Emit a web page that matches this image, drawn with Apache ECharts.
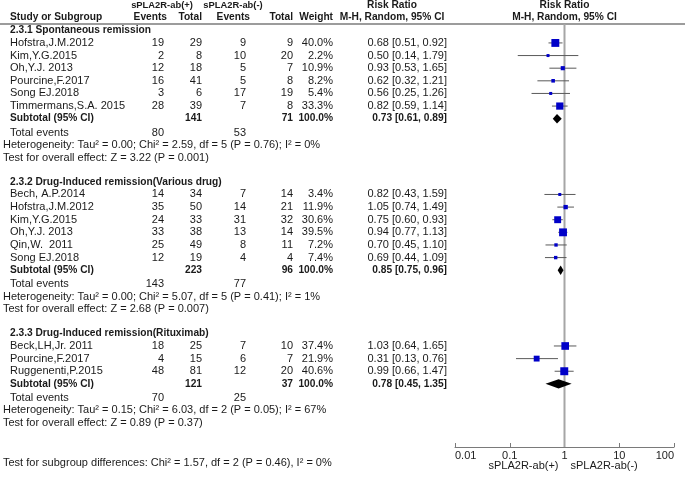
<!DOCTYPE html>
<html><head><meta charset="utf-8">
<script src="https://cdn.jsdelivr.net/npm/echarts@6/dist/echarts.min.js"></script>
<style>html,body{margin:0;padding:0;background:#fff}#c{width:685px;height:481px}</style>
</head><body><div id="c"></div>
<script>
// ---------------- DATA ----------------
const groupTitles = ['2.3.1 Spontaneous remission', '2.3.2 Drug-Induced remission(Various drug)', '2.3.3 Drug-Induced remission(Rituximab)'];

const studies1 = ['Hofstra,J.M.2012', 'Kim,Y.G.2015', 'Oh,Y.J. 2013', 'Pourcine,F.2017', 'Song EJ.2018', 'Timmermans,S.A. 2015'];
const eventsPos1 = [19, 2, 12, 16, 3, 28];
const totalPos1 = [29, 8, 18, 41, 6, 39];
const eventsNeg1 = [9, 10, 5, 5, 17, 7];
const totalNeg1 = [9, 20, 7, 8, 19, 8];
const weight1 = [40.0, 2.2, 10.9, 8.2, 5.4, 33.3];
const rr1 = [0.68, 0.50, 0.93, 0.62, 0.56, 0.82];
const lo1 = [0.51, 0.14, 0.53, 0.32, 0.25, 0.59];
const hi1 = [0.92, 1.79, 1.65, 1.21, 1.26, 1.14];

const studies2 = ['Bech, A.P.2014', 'Hofstra,J.M.2012', 'Kim,Y.G.2015', 'Oh,Y.J. 2013', 'Qin,W.  2011', 'Song EJ.2018'];
const eventsPos2 = [14, 35, 24, 33, 25, 12];
const totalPos2 = [34, 50, 33, 38, 49, 19];
const eventsNeg2 = [7, 14, 31, 13, 8, 4];
const totalNeg2 = [14, 21, 32, 14, 11, 4];
const weight2 = [3.4, 11.9, 30.6, 39.5, 7.2, 7.4];
const rr2 = [0.82, 1.05, 0.75, 0.94, 0.70, 0.69];
const lo2 = [0.43, 0.74, 0.60, 0.77, 0.45, 0.44];
const hi2 = [1.59, 1.49, 0.93, 1.13, 1.10, 1.09];

const studies3 = ['Beck,LH,Jr. 2011', 'Pourcine,F.2017', 'Ruggenenti,P.2015'];
const eventsPos3 = [18, 4, 48];
const totalPos3 = [25, 15, 81];
const eventsNeg3 = [7, 6, 12];
const totalNeg3 = [10, 7, 20];
const weight3 = [37.4, 21.9, 40.6];
const rr3 = [1.03, 0.31, 0.99];
const lo3 = [0.64, 0.13, 0.66];
const hi3 = [1.65, 0.76, 1.47];

const subTotalPos = [141, 223, 121];
const subTotalNeg = [71, 96, 37];
const subRR = [0.73, 0.85, 0.78];
const subLo = [0.61, 0.75, 0.45];
const subHi = [0.89, 0.96, 1.35];
const totalEventsPos = [80, 143, 70];
const totalEventsNeg = [53, 77, 25];
const heterogeneity = [
  'Heterogeneity: Tau\u00b2 = 0.00; Chi\u00b2 = 2.59, df = 5 (P = 0.76); I\u00b2 = 0%',
  'Heterogeneity: Tau\u00b2 = 0.00; Chi\u00b2 = 5.07, df = 5 (P = 0.41); I\u00b2 = 1%',
  'Heterogeneity: Tau\u00b2 = 0.15; Chi\u00b2 = 6.03, df = 2 (P = 0.05); I\u00b2 = 67%'
];
const overallEffect = [
  'Test for overall effect: Z = 3.22 (P = 0.001)',
  'Test for overall effect: Z = 2.68 (P = 0.007)',
  'Test for overall effect: Z = 0.89 (P = 0.37)'
];
const subgroupTest = 'Test for subgroup differences: Chi\u00b2 = 1.57, df = 2 (P = 0.46), I\u00b2 = 0%';
const xTicks = [0.01, 0.1, 1, 10, 100];
const favoursLeft = 'sPLA2R-ab(+)';
const favoursRight = 'sPLA2R-ab(-)';

// ---------------- LAYOUT ----------------
const FONT = '"Liberation Sans", Arial, sans-serif';
const FS = 11;
const FSB = 10.2;
const X = {name: 10, note: 3, evP: 164, totP: 202, evN: 246, totN: 293, wt: 333, rr: 447, rrHead: 392};
const groups = [
  {names: studies1, evP: eventsPos1, totP: totalPos1, evN: eventsNeg1, totN: totalNeg1, w: weight1, rr: rr1, lo: lo1, hi: hi1},
  {names: studies2, evP: eventsPos2, totP: totalPos2, evN: eventsNeg2, totN: totalNeg2, w: weight2, rr: rr2, lo: lo2, hi: hi2},
  {names: studies3, evP: eventsPos3, totP: totalPos3, evN: eventsNeg3, totN: totalNeg3, w: weight3, rr: rr3, lo: lo3, hi: hi3}
];

const textRows = [];
const marks = [];
const diamonds = [];
const T = (text, x, align, bold, size) => ({text: String(text), x, align: align || 'left', bold: !!bold, size});
const A = (text, axisX, dx, align, bold) => ({text: String(text), axisX, dx, align, bold: !!bold});
const addText = (row, cells) => textRows.push({row, cells});
const f2 = v => v.toFixed(2);
const ciText = (e, l, h) => f2(e) + ' [' + f2(l) + ', ' + f2(h) + ']';

addText(-3, [T('sPLA2R-ab(+)', 162, 'center', true, 9.4), T('sPLA2R-ab(-)', 233, 'center', true, 9.4),
  T('Risk Ratio', X.rrHead, 'center', true), A('Risk Ratio', 1, 0, 'center', true)]);
addText(-2, [T('Study or Subgroup', X.name, 'left', true), T('Events', 167, 'right', true), T('Total', X.totP, 'right', true),
  T('Events', 250, 'right', true), T('Total', X.totN, 'right', true), T('Weight', X.wt, 'right', true),
  T('M-H, Random, 95% CI', X.rrHead, 'center', true), A('M-H, Random, 95% CI', 1, 0, 'center', true)]);

let r = -1;
groups.forEach((g, gi) => {
  addText(r, [T(groupTitles[gi], X.name, 'left', true)]);
  g.names.forEach((nm, i) => {
    const row = r + 1 + i;
    addText(row, [T(nm, X.name), T(g.evP[i], X.evP, 'right'), T(g.totP[i], X.totP, 'right'),
      T(g.evN[i], X.evN, 'right'), T(g.totN[i], X.totN, 'right'), T(g.w[i].toFixed(1) + '%', X.wt, 'right'),
      T(ciText(g.rr[i], g.lo[i], g.hi[i]), X.rr, 'right')]);
    marks.push([g.rr[i], g.lo[i], g.hi[i], row, g.w[i]]);
  });
  const sr = r + 1 + g.names.length;
  addText(sr, [T('Subtotal (95% CI)', X.name, 'left', true), T(subTotalPos[gi], X.totP, 'right', true),
    T(subTotalNeg[gi], X.totN, 'right', true), T('100.0%', X.wt, 'right', true),
    T(ciText(subRR[gi], subLo[gi], subHi[gi]), X.rr, 'right', true)]);
  diamonds.push([subRR[gi], subLo[gi], subHi[gi], sr]);
  addText(sr + 1.1, [T('Total events', X.name), T(totalEventsPos[gi], X.evP, 'right'), T(totalEventsNeg[gi], X.evN, 'right')]);
  addText(sr + 2.1, [T(heterogeneity[gi], X.note)]);
  addText(sr + 3.1, [T(overallEffect[gi], X.note)]);
  r = sr + 5;
});
addText(33.3, [T(subgroupTest, X.note)]);
addText(33.5, [A(favoursLeft, 1, -6, 'right'), A(favoursRight, 1, 6, 'left')]);

const chart = echarts.init(document.getElementById('c'));
const option = {
  animation: false,
  backgroundColor: '#fff',
  grid: {left: 455, right: 11, top: 0, bottom: 34, containLabel: false},
  xAxis: {
    type: 'log', logBase: 10, min: xTicks[0], max: xTicks[xTicks.length - 1],
    axisLine: {show: true, onZero: false, lineStyle: {color: '#7a7a7a', width: 1}},
    axisTick: {show: true, inside: true, length: 4, lineStyle: {color: '#7a7a7a'}},
    splitLine: {show: false}, minorTick: {show: false},
    axisLabel: {fontFamily: FONT, fontSize: 11, color: '#222', margin: 3,
      alignMinLabel: 'left', alignMaxLabel: 'right',
      formatter: v => String(+v.toPrecision(3))}
  },
  yAxis: {type: 'value', inverse: true, min: -3.4, max: 32, show: false, splitLine: {show: false}},
  series: [
    { // reference lines
      type: 'custom', z: 1, clip: false, silent: true,
      data: [[1, -1.5, 32]],
      renderItem: (params, api) => {
        const top = api.coord([1, api.value(1)]);
        const bot = api.coord([1, api.value(2)]);
        return {type: 'group', children: [
          {type: 'line', shape: {x1: 0, y1: top[1], x2: 685, y2: top[1]}, style: {stroke: '#9c9c9c', lineWidth: 2}},
          {type: 'line', shape: {x1: top[0], y1: top[1], x2: bot[0], y2: bot[1]}, style: {stroke: '#a6a6a6', lineWidth: 2}}
        ]};
      }
    },
    { // study CIs and squares
      type: 'custom', z: 3, clip: false, silent: true,
      data: marks,
      renderItem: (params, api) => {
        const row = api.value(3);
        const c = api.coord([api.value(0), row]);
        const l = api.coord([api.value(1), row]);
        const h = api.coord([api.value(2), row]);
        const s = Math.max(3, 1.25 * Math.sqrt(api.value(4)));
        return {type: 'group', children: [
          {type: 'line', shape: {x1: l[0], y1: c[1], x2: h[0], y2: c[1]}, style: {stroke: '#5a5a5a', lineWidth: 1}},
          {type: 'rect', shape: {x: c[0] - s / 2, y: c[1] - s / 2, width: s, height: s}, style: {fill: '#0000c8'}}
        ]};
      }
    },
    { // subtotal diamonds
      type: 'custom', z: 3, clip: false, silent: true,
      data: diamonds,
      renderItem: (params, api) => {
        const row = api.value(3);
        const c = api.coord([api.value(0), row]);
        const l = api.coord([api.value(1), row]);
        const h = api.coord([api.value(2), row]);
        const hh = 4.7;
        return {type: 'polygon', shape: {points: [[l[0], c[1]], [c[0], c[1] - hh], [h[0], c[1]], [c[0], c[1] + hh]]}, style: {fill: '#000'}};
      }
    },
    { // table texts
      type: 'custom', z: 4, clip: false, silent: true,
      data: textRows.map(t => [1, t.row]),
      renderItem: (params, api) => {
        const rowSpec = textRows[params.dataIndex];
        const y = api.coord([1, api.value(1)])[1];
        return {type: 'group', children: rowSpec.cells.map(cell => {
          const x = cell.axisX !== undefined ? api.coord([cell.axisX, api.value(1)])[0] + cell.dx : cell.x;
          return {type: 'text', x: x, y: y, style: {text: cell.text, fontFamily: FONT,
            fontSize: cell.size || (cell.bold ? FSB : FS),
            fontWeight: cell.bold ? 'bold' : 'normal', fill: '#1a1a1a', align: cell.align, verticalAlign: 'middle'}};
        })};
      }
    }
  ]
};
chart.setOption(option);
</script>
</body></html>
